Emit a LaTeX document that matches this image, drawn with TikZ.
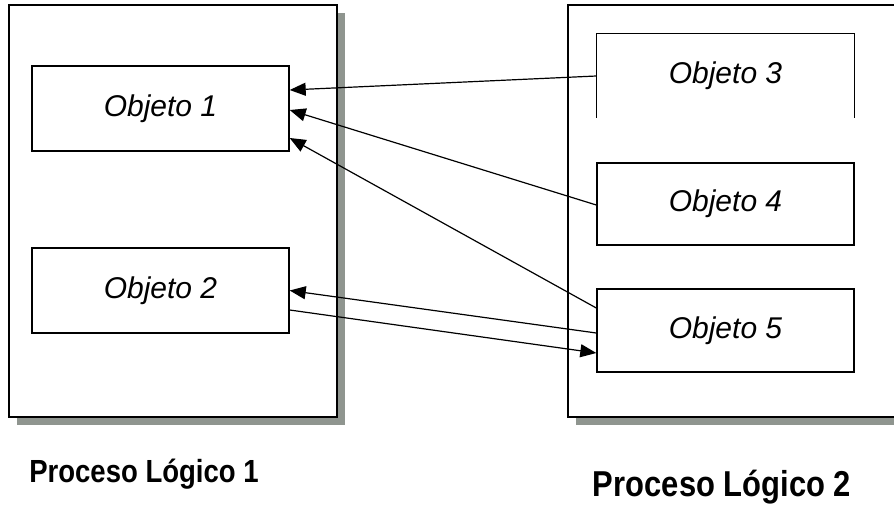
\documentclass[tikz,border=0pt]{standalone}
\usepackage{fontspec}
\setmainfont{Liberation Sans}
\newfontfamily\captionfont[FakeStretch=0.86]{Liberation Sans}
\usetikzlibrary{arrows.meta,calc,shadows}
\definecolor{shadowgray}{RGB}{143,149,143}
\tikzset{
  process/.style={draw=black, line width=2.3pt, fill=white, inner sep=0pt,
    general shadow={shadow xshift=8pt, shadow yshift=-8pt, fill=shadowgray}},
  objbox/.style={draw=black, line width=1.4pt, fill=white, inner sep=0pt,
    minimum width=257pt, font=\fontsize{30}{34}\selectfont\itshape},
  msg/.style={line width=1.2pt, -{Triangle[length=16pt,width=13pt]}},
  caption/.style={anchor=base, font=\captionfont\bfseries\fontsize{#1}{#1}\selectfont}
}
\begin{document}
\begin{tikzpicture}[x=1pt,y=-1pt]
  \useasboundingbox (0,0) rectangle (894,517);
  \clip (0,0) rectangle (894,517);

  % the two logical processes
  \node[process, minimum width=328pt, minimum height=412pt] (p1) at (173,211) {};
  \node[process, minimum width=340pt, minimum height=412pt] (p2) at (738,211) {};

  % objects of process 1
  \node[objbox, minimum height=85pt] (o1) at (160.5,108.5) {Objeto 1};
  \node[objbox, minimum height=85pt] (o2) at (160.5,290.5) {Objeto 2};

  % objects of process 2 (the first one is open at the bottom)
  \node[objbox, draw=none, minimum height=83pt] (o3) at (725.5,75.5) {Objeto 3};
  \draw[line width=1.4pt] (o3.south west) -- (o3.north west) -- (o3.north east) -- (o3.south east);
  \node[objbox, minimum height=82pt] (o4) at (725.5,204) {Objeto 4};
  \node[objbox, minimum height=83pt] (o5) at (725.5,330.5) {Objeto 5};

  % messages between objects
  \draw[msg] ($(o3.west)+(0,0.5)$) -- ($(o1.east)+(0,-18.5)$);
  \draw[msg] ($(o4.west)+(0,1)$) -- ($(o1.east)+(0,1.5)$);
  \draw[msg] ($(o5.west)+(0,-22.5)$) -- ($(o1.east)+(0,29.5)$);
  \draw[msg] ($(o5.west)+(0,2.5)$) -- ($(o2.east)+(0,0)$);
  \draw[msg] ($(o2.east)+(0,19.5)$) -- ($(o5.west)+(0,22.5)$);

  % captions
  \node[caption=32] (l1) at (144,482) {Proceso Lógico 1};
  \node[caption=36] (l2) at (722,496) {Proceso Lógico 2};
\end{tikzpicture}
\end{document}
